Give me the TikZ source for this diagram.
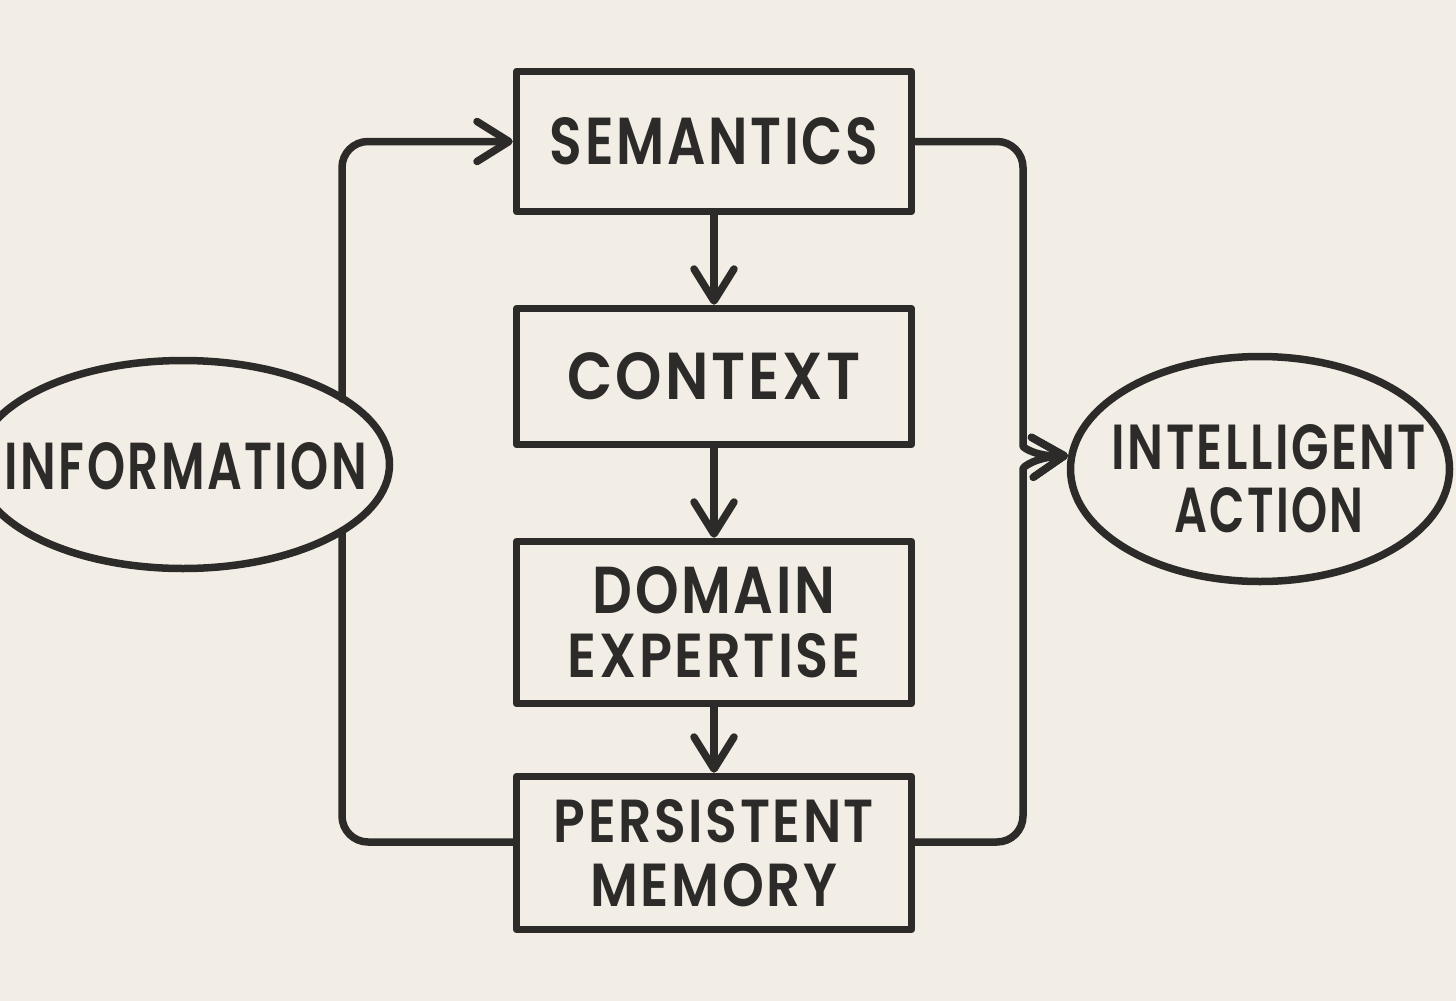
\documentclass[tikz,border=0pt]{standalone}
\usepackage{fontspec}
\usepackage{graphicx}
\newfontfamily\lblfont{Poppins}[UprightFont=* SemiBold, LetterSpace=5]
\usetikzlibrary{arrows.meta,shapes.geometric,calc}
\definecolor{paper}{RGB}{243,238,229}
\definecolor{ink}{RGB}{44,43,41}
\newcommand{\fitl}[3]{\resizebox{#1pt}{#2pt}{\lblfont #3}}
\begin{document}
\begin{tikzpicture}[x=1pt,y=-1pt,
  inkline/.style={draw=ink,line width=7.5pt,line cap=round,line join=round},
  box/.style={inkline, rectangle, minimum width=395pt, inner sep=0pt, align=center,
    font=\fontsize{10}{64}\selectfont, text=ink},
  oval/.style={inkline, ellipse, inner sep=0pt},
  lbl/.style={inner sep=0pt, align=center, font=\fontsize{10}{63}\selectfont, text=ink},
  flow/.style={inkline, rounded corners=26pt},
  tip/.style={-{Straight Barb[length=32pt,width=40pt,round]}}
]
\fill[paper] (0,0) rectangle (1456,1001);
\useasboundingbox (0,0) rectangle (1456,1001);

% boxes
\node[box, minimum height=140pt] (sem) at (714,141.5) {\fitl{328}{47}{SEMANTICS}};
\node[box, minimum height=136pt] (ctx) at (714,376.5) {\fitl{293}{47}{CONTEXT}};
\node[box, minimum height=162pt] (dom) at (714,622.5) {\fitl{243}{47}{DOMAIN}\\\fitl{293}{44}{EXPERTISE}};
\node[box, minimum height=153pt] (mem) at (714,853) {\fitl{320}{43}{PERSISTENT}\\\fitl{247}{43}{MEMORY}};

% ellipses
\node[oval, minimum width=413pt, minimum height=208pt] (info) at (183,464.5) {};
\node[lbl] (infot) at (186,466.5) {\fitl{362}{47}{INFORMATION}};
\node[oval, minimum width=379pt, minimum height=225pt] (act) at (1260,469) {};
\node[lbl] (actt) at (1269,479) {\fitl{314}{45}{INTELLIGENT}\\\fitl{189}{45}{ACTION}};

% connector ends on the information ellipse
\coordinate (iu) at (342,399);
\coordinate (id) at (342,531);
\coordinate (acttip) at (act.176);

% vertical chain
\draw[inkline, tip] (sem.south) -- (ctx.north);
\draw[inkline, tip] (ctx.south) -- (dom.north);
\draw[inkline, tip] (dom.south) -- (mem.north);

% left loop
\draw[flow, tip] (iu) -- (342,141.5) -- (sem.west);
\draw[flow] (id) -- (342,842) -- ($(mem.west)+(0,-11)$);

% right merge
\draw[flow, tip] (sem.east) -- (1023,141.5) -- (1023,420) .. controls (1023,448) and (1038,457) .. (acttip);
\draw[flow, tip] ($(mem.east)+(0,-11)$) -- (1023,842) -- (1023,495) .. controls (1023,466) and (1038,457) .. (acttip);
\end{tikzpicture}
\end{document}
